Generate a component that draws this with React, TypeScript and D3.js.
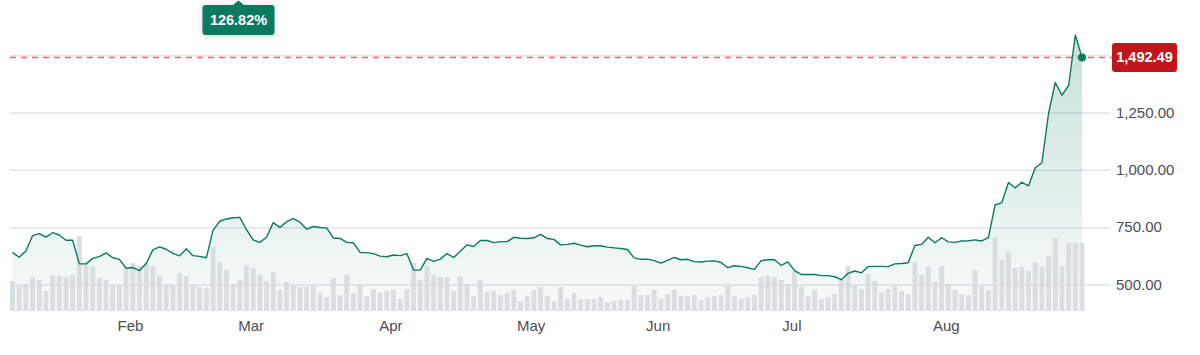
import React from "react";
import * as d3 from "d3";

// Daily closing prices (trading-day index 0..160)
const prices: number[] = [
  642, 621, 648, 715, 724, 709, 728, 718, 695, 695,
  592, 592, 616, 624, 640, 619, 612, 573, 576, 563,
  594, 653, 666, 656, 638, 627, 658, 628, 625, 619,
  738, 778, 788, 793, 795, 742, 697, 686, 708, 772,
  751, 776, 789, 774, 744, 755, 751, 749, 705, 703,
  686, 684, 642, 641, 637, 626, 623, 631, 628, 637,
  565, 565, 616, 603, 613, 637, 620, 647, 675, 668,
  694, 694, 685, 689, 689, 708, 704, 703, 706, 721,
  703, 699, 675, 677, 682, 674, 667, 671, 671, 665,
  662, 659, 655, 618, 612, 613, 606, 595, 607, 620,
  610, 612, 602, 600, 604, 605, 598, 576, 584, 581,
  575, 568, 606, 610, 610, 585, 601, 563, 546, 546,
  546, 541, 541, 536, 523, 551, 561, 553, 580, 581,
  581, 580, 592, 594, 597, 672, 677, 708, 684, 706,
  688, 686, 692, 693, 697, 692, 707, 849, 859, 947,
  923, 948, 932, 1011, 1033, 1249, 1383, 1328, 1370, 1590,
  1492.49,
];

// Daily volume (millions, relative)
const volumes: number[] = [
  30, 25, 27, 34, 31, 20, 36, 35, 34, 36,
  75, 48, 45, 33, 31, 25, 26, 43, 48, 45,
  48, 45, 35, 26, 26, 38, 35, 26, 24, 23,
  64, 49, 41, 27, 31, 46, 43, 36, 30, 39,
  21, 29, 25, 24, 24, 25, 18, 14, 33, 16,
  36, 18, 26, 15, 22, 18, 20, 21, 12, 22,
  48, 31, 45, 36, 34, 34, 20, 34, 27, 15,
  31, 19, 20, 16, 18, 21, 10, 15, 21, 24,
  15, 10, 24, 12, 18, 12, 12, 12, 14, 9,
  10, 11, 11, 25, 16, 16, 21, 12, 17, 21,
  15, 15, 16, 11, 14, 15, 16, 25, 15, 12,
  14, 16, 34, 35, 34, 31, 27, 40, 24, 15,
  21, 12, 14, 17, 31, 45, 25, 22, 37, 30,
  19, 22, 25, 20, 17, 49, 36, 44, 29, 45,
  27, 21, 17, 16, 41, 25, 21, 74, 51, 59,
  43, 44, 40, 49, 44, 55, 73, 45, 68, 68,
  68,
];

const monthLabels: string[] = ["Feb", "Mar", "Apr", "May", "Jun", "Jul", "Aug"];
const monthIndex: number[] = [17.65, 35.7, 56.6, 77.6, 96.6, 116.6, 139.7];

const yTickValues: number[] = [500, 750, 1000, 1250];
const gridValues: number[] = [500, 750, 1000, 1250, 1500];

const lastPrice = 1492.49;
const changeText = "126.82%";

const W = 1200;
const H = 355;
const GREEN = "#0a7a5e";
const RED = "#c0161b";

export default function App() {
  const n = prices.length;
  const x = d3.scaleLinear().domain([0, n - 1]).range([12.5, 1082]);
  const y = d3.scaleLinear().domain([500, 1250]).range([285, 113]);
  const bottom = 311;
  const vol = d3.scaleLinear().domain([0, 100]).range([bottom, bottom - 100]);

  const line = d3
    .line<number>()
    .x((_, i) => x(i))
    .y((d) => y(d));
  const area = d3
    .area<number>()
    .x((_, i) => x(i))
    .y0(bottom)
    .y1((d) => y(d));

  const fmt = d3.format(",.2f");
  const barW = 5;
  const gridX0 = 10;
  const gridX1 = 1110;
  const lastX = x(n - 1);
  const lastY = y(lastPrice);

  const badgeCx = 238.5;
  const font = "'Liberation Sans', Arial, sans-serif";

  return (
    <div style={{ position: "absolute", left: 0, top: 0 }}>
      <svg width={W} height={H} style={{ display: "block" }} fontFamily={font}>
        <defs>
          <linearGradient id="areaGrad" gradientUnits="userSpaceOnUse" x1="0" y1="40" x2="0" y2={bottom}>
            <stop offset="0" stopColor={GREEN} stopOpacity={0.22} />
            <stop offset="1" stopColor={GREEN} stopOpacity={0.03} />
          </linearGradient>
          <filter id="shadow" x="-30%" y="-50%" width="160%" height="220%">
            <feDropShadow dx="0" dy="1" stdDeviation="3" floodColor="#000" floodOpacity="0.18" />
          </filter>
        </defs>
        <rect width={W} height={H} fill="#fff" />

        {gridValues.map((g) => (
          <line key={g} x1={gridX0} x2={gridX1} y1={y(g)} y2={y(g)} stroke="#e3e3e8" strokeWidth={1.5} />
        ))}

        <path d={area(prices) || ""} fill="url(#areaGrad)" />

        {volumes.map((v, i) => (
          <rect
            key={i}
            x={x(i) - barW / 2}
            y={vol(v)}
            width={barW}
            height={bottom - vol(v)}
            fill="#d6d9dc"
            fillOpacity={0.85}
          />
        ))}

        <line
          x1={gridX0}
          x2={1112}
          y1={lastY}
          y2={lastY}
          stroke="#e36b6b"
          strokeWidth={1.5}
          strokeDasharray="6,5"
        />

        <path d={line(prices) || ""} fill="none" stroke={GREEN} strokeWidth={1.4} strokeLinejoin="round" />
        <circle cx={lastX} cy={lastY} r={4} fill={GREEN} />

        {yTickValues.map((t) => (
          <text key={t} x={1116} y={y(t)} dy="0.32em" fontSize={15} fill="#4d4d55">
            {fmt(t)}
          </text>
        ))}

        {monthLabels.map((m, k) => (
          <text key={m} x={x(monthIndex[k])} y={331} textAnchor="middle" fontSize={15} fill="#4d4d55">
            {m}
          </text>
        ))}

        <g>
          <rect x={1112} y={lastY - 14.5} width={65} height={29} rx={3} fill={RED} />
          <text x={1144.5} y={lastY} dy="0.35em" textAnchor="middle" fontSize={14.5} fontWeight={700} fill="#fff">
            {fmt(lastPrice)}
          </text>
        </g>

        <g filter="url(#shadow)">
          <rect x={badgeCx - 36} y={5} width={72} height={30} rx={3} fill={GREEN} />
          <path d={`M${badgeCx - 6},5.5 L${badgeCx},0.5 L${badgeCx + 6},5.5 Z`} fill={GREEN} />
        </g>
        <text x={badgeCx} y={20} dy="0.35em" textAnchor="middle" fontSize={14.5} fontWeight={700} fill="#fff">
          {changeText}
        </text>
      </svg>
    </div>
  );
}
